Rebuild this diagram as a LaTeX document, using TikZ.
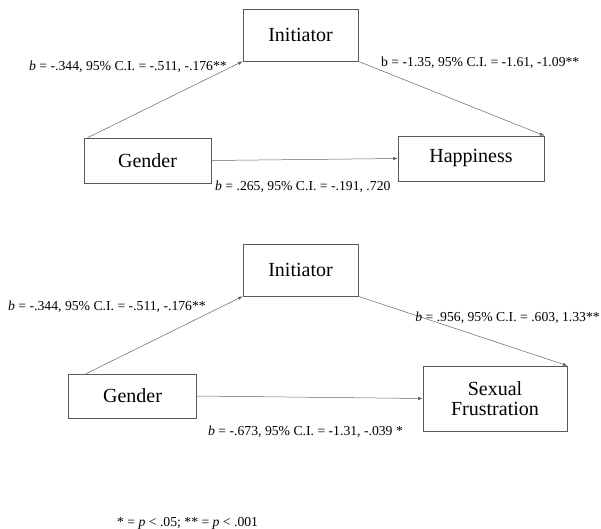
\documentclass[tikz,border=0pt]{standalone}
\usepackage{fontspec}
\setmainfont{Liberation Serif}
\usetikzlibrary{arrows.meta,calc}
\begin{document}
\begin{tikzpicture}[x=1pt,y=-1pt,
  box/.style={draw=black!65,line width=0.7pt,fill=white,inner sep=0pt,align=center,font=\fontsize{20}{22}\selectfont},
  conn/.style={draw=black!60,line width=0.5pt,-{Latex[length=4.5pt,width=3.5pt]}},
  lab/.style={inner sep=0pt,font=\fontsize{13.7}{15}\selectfont}]
\useasboundingbox[fill=white] (0,0) rectangle (601,528);
% top diagram
\node[box,minimum width=115pt,minimum height=52pt] (i1) at (300.5,35) {Initiator};
\node[box,minimum width=127pt,minimum height=45pt] (g1) at (147.5,160.5) {Gender};
\node[box,minimum width=146pt,minimum height=45pt] (h1) at (471,158.5) {Happiness};
\draw[conn] ([xshift=4pt]g1.north west) -- (i1.south west);
\draw[conn] (i1.south east) -- (h1.north east);
\draw[conn] (g1.east) -- (h1.west);
\node[lab,anchor=east] (l1) at (227,67) {\textit{b} = -.344, 95\% C.I. = -.511, -.176**};
\node[lab,anchor=west,text=black] (l2) at (381,63) {b = -1.35, 95\% C.I. = -1.61, -1.09**};
\node[lab,anchor=west] (l3) at (215,187) {\textit{b} = .265, 95\% C.I. = -.191, .720};
% bottom diagram
\node[box,minimum width=115pt,minimum height=52pt] (i2) at (300.5,270) {Initiator};
\node[box,minimum width=128pt,minimum height=44pt] (g2) at (132.5,396) {Gender};
\node[box,minimum width=144pt,minimum height=65pt] (s2) at (495,398.5) {Sexual\\[-2pt]Frustration};
\draw[conn] ([xshift=18pt]g2.north west) -- (i2.south west);
\draw[conn] (i2.south east) -- (s2.north east);
\draw[conn] (g2.east) -- (s2.west);
\node[lab,anchor=west] (l4) at (8,307) {\textit{b} = -.344, 95\% C.I. = -.511, -.176**};
\node[lab,anchor=east] (l5) at (600,318) {\textit{b} = .956, 95\% C.I. = .603, 1.33**};
\node[lab,anchor=west] (l6) at (208,432) {\textit{b} = -.673, 95\% C.I. = -1.31, -.039 *};
\node[lab,anchor=west] (fn) at (117,523) {* = \textit{p} < .05; ** = \textit{p} < .001};
\end{tikzpicture}
\end{document}
